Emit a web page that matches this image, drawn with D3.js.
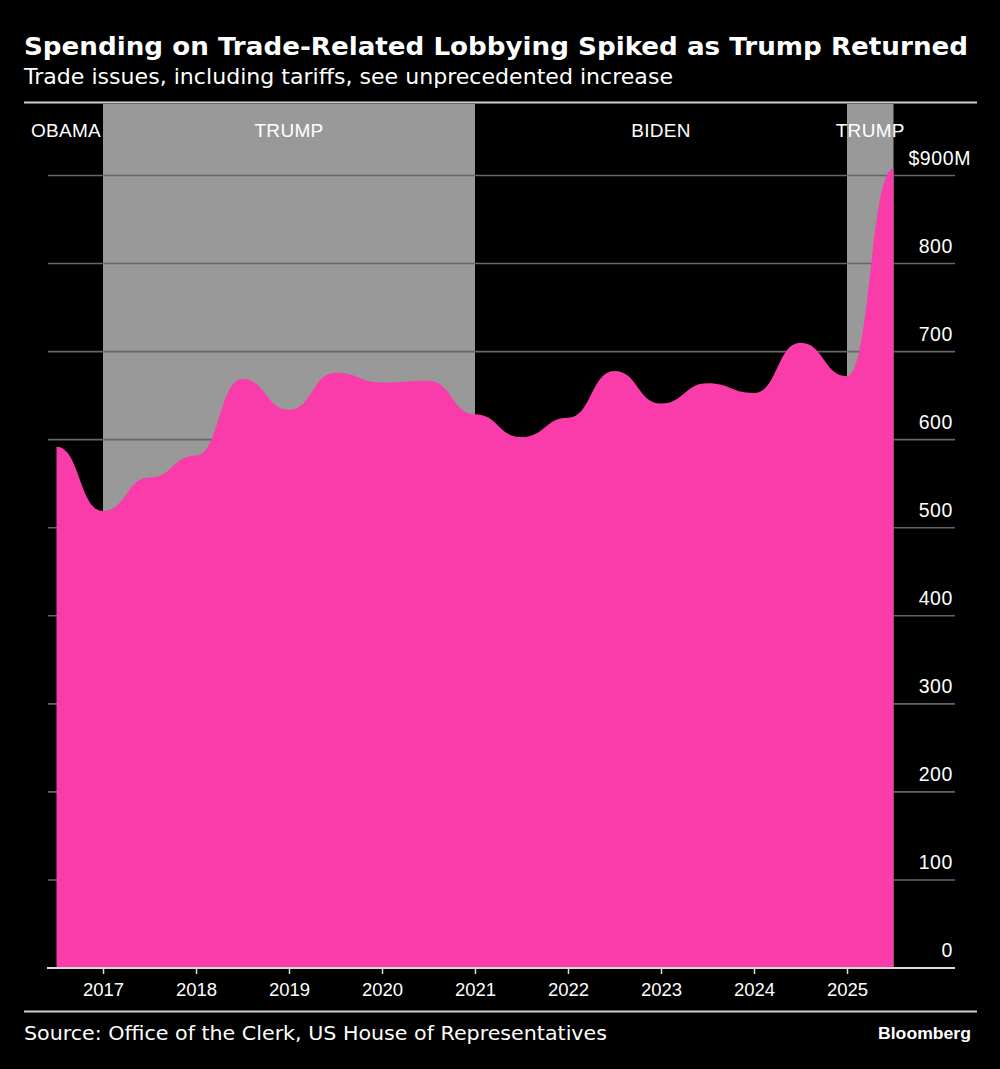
<!DOCTYPE html>
<html>
<head>
<meta charset="utf-8">
<script src="https://cdn.jsdelivr.net/npm/d3@7"></script>
<style>
  html, body { margin: 0; padding: 0; background: #000; }
  svg { display: block; }
</style>
</head>
<body>
<svg id="chart" width="1000" height="1069"></svg>
<script>
// ---- data (half-year readings) ----
const periods = [2016.5, 2017, 2017.5, 2018, 2018.5, 2019, 2019.5, 2020, 2020.5, 2021,
  2021.5, 2022, 2022.5, 2023, 2023.5, 2024, 2024.5, 2025, 2025.5];
const spending = [592, 519, 557, 582, 669, 634, 676, 665, 667, 629,
  603, 625, 678, 641, 664, 653, 710, 672, 908];
const yearTicks = [2017, 2018, 2019, 2020, 2021, 2022, 2023, 2024, 2025];
const valueTicks = [0, 100, 200, 300, 400, 500, 600, 700, 800, 900];
const terms = ["OBAMA", "TRUMP", "BIDEN", "TRUMP"];
const termStart = [2016.5, 2017, 2021, 2025];
const termEnd = [2017, 2021, 2025, 2025.5];
const shadedTerms = [1, 3];

const title = "Spending on Trade-Related Lobbying Spiked as Trump Returned";
const subtitle = "Trade issues, including tariffs, see unprecedented increase";
const source = "Source: Office of the Clerk, US House of Representatives";

// ---- layout ----
const svg = d3.select("#chart");
const x = d3.scaleLinear().domain([2017, 2025]).range([103, 847]);
const y = d3.scaleLinear().domain([0, 900]).range([968, 175.5]);
const gridX0 = 48, gridX1 = 955;

svg.append("rect").attr("width", 1000).attr("height", 1069).attr("fill", "#000");

// title
svg.append("text").attr("x", 24).attr("y", 55)
  .attr("font-family", "'DejaVu Sans', sans-serif").attr("font-weight", "bold")
  .attr("font-size", 25.5).attr("fill", "#fff")
  .attr("textLength", 944).attr("lengthAdjust", "spacingAndGlyphs")
  .text(title);
svg.append("text").attr("x", 24).attr("y", 84)
  .attr("font-family", "'DejaVu Sans', sans-serif")
  .attr("font-size", 20.5).attr("fill", "#fff")
  .attr("textLength", 649).attr("lengthAdjust", "spacingAndGlyphs")
  .text(subtitle);

// top rule
svg.append("line").attr("x1", 24).attr("x2", 977).attr("y1", 102.5).attr("y2", 102.5)
  .attr("stroke", "#cfcfcf").attr("stroke-width", 2);

// shaded terms
shadedTerms.forEach(i => {
  svg.append("rect")
    .attr("x", x(termStart[i])).attr("y", 104)
    .attr("width", x(termEnd[i]) - x(termStart[i]))
    .attr("height", y(0) - 104)
    .attr("fill", "#999999");
});

// term labels
terms.forEach((t, i) => {
  const isFirst = i === 0;
  svg.append("text")
    .attr("x", isFirst ? x(termEnd[i]) - 2 : (x(termStart[i]) + x(termEnd[i])) / 2)
    .attr("y", 137)
    .attr("text-anchor", isFirst ? "end" : "middle")
    .attr("font-family", "'Liberation Sans', Arial, sans-serif")
    .attr("font-size", 19).attr("fill", "#fff")
    .attr("letter-spacing", 0.3)
    .text(t);
});

// gridlines
svg.append("g").selectAll("line").data(valueTicks.filter(v => v > 0)).join("line")
  .attr("x1", gridX0).attr("x2", gridX1)
  .attr("y1", d => y(d)).attr("y2", d => y(d))
  .attr("stroke", "#666").attr("stroke-width", 1.6);

// area
const area = d3.area()
  .x((d, i) => x(periods[i]))
  .y0(y(0))
  .y1(d => y(d))
  .curve(d3.curveBumpX);
svg.append("path").datum(spending)
  .attr("d", area)
  .attr("fill", "#fa3caa");

// y labels
svg.append("g").selectAll("text").data(valueTicks).join("text")
  .attr("x", d => d === 900 ? 971 : 953)
  .attr("y", d => y(d) - 11)
  .attr("text-anchor", "end")
  .attr("font-family", "'Liberation Sans', Arial, sans-serif")
  .attr("font-size", 19.5).attr("fill", "#fff")
  .attr("letter-spacing", 0.6)
  .text(d => d === 900 ? "$900M" : d);

// x axis baseline
svg.append("line").attr("x1", 47).attr("x2", gridX1).attr("y1", y(0)).attr("y2", y(0))
  .attr("stroke", "#dcdcdc").attr("stroke-width", 2);
const xAxis = d3.axisBottom(x).tickValues(yearTicks).tickFormat(d3.format("d"))
  .tickSize(6).tickPadding(9);
const gx = svg.append("g").attr("transform", `translate(0,${y(0)})`).call(xAxis);
gx.select(".domain").remove();
gx.selectAll(".tick line").attr("stroke", "#dcdcdc").attr("stroke-width", 1.5);
gx.selectAll(".tick text")
  .attr("fill", "#fff")
  .attr("font-family", "'Liberation Sans', Arial, sans-serif")
  .attr("font-size", 18.5);

// footer rule
svg.append("line").attr("x1", 24).attr("x2", 977).attr("y1", 1011.5).attr("y2", 1011.5)
  .attr("stroke", "#cfcfcf").attr("stroke-width", 2);

svg.append("text").attr("x", 24).attr("y", 1040)
  .attr("font-family", "'DejaVu Sans', sans-serif")
  .attr("font-size", 19.5).attr("fill", "#fff")
  .attr("textLength", 583).attr("lengthAdjust", "spacingAndGlyphs")
  .text(source);
svg.append("text").attr("x", 971).attr("y", 1039)
  .attr("text-anchor", "end")
  .attr("font-family", "'Liberation Sans', Arial, sans-serif").attr("font-weight", "bold")
  .attr("font-size", 17).attr("fill", "#fff")
  .attr("textLength", 93).attr("lengthAdjust", "spacingAndGlyphs")
  .text("Bloomberg");
</script>
</body>
</html>
